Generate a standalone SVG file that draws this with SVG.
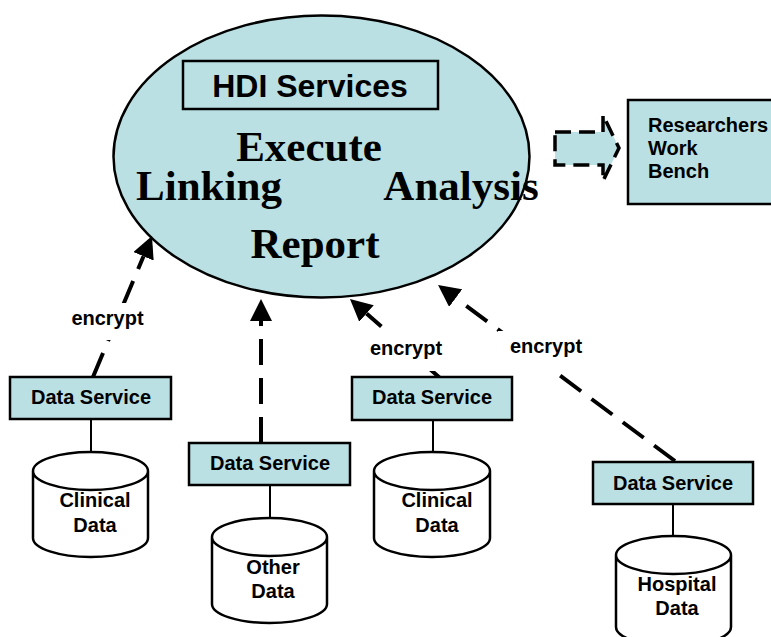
<svg xmlns="http://www.w3.org/2000/svg" width="771" height="637" viewBox="0 0 771 637">
<defs>
<style>
.fill{fill:#BAE0E3;stroke:#000;stroke-width:2.5}
.cyl{fill:#fff;stroke:#000;stroke-width:2.5}
.t{font-family:"Liberation Sans",Arial,sans-serif;font-weight:bold;font-size:20px;fill:#000}
.big{font-family:"Liberation Serif","Times New Roman",serif;font-weight:bold;font-size:43px;fill:#000}
.dash{stroke:#000;stroke-width:4;stroke-dasharray:26 13;fill:none}
.link{stroke:#000;stroke-width:2;fill:none}
.mask{fill:#fff;stroke:none}
</style>
<marker id="ah" markerUnits="userSpaceOnUse" markerWidth="22" markerHeight="22" refX="0" refY="11" orient="auto">
<path d="M0,0 L22,11 L0,22 z" fill="#000"/>
</marker>
</defs>
<rect width="771" height="637" fill="#fff"/>

<g id="hdi">
<ellipse cx="321.5" cy="156.5" rx="208" ry="141" class="fill" stroke-width="2"/>
<rect x="183" y="61" width="255" height="48" fill="none" stroke="#000" stroke-width="2.5"/>
<text x="310" y="97" class="t" style="font-size:32px" text-anchor="middle">HDI Services</text>
<text x="309" y="161" class="big" text-anchor="middle">Execute</text>
<text x="209" y="200" class="big" text-anchor="middle">Linking</text>
<text x="461" y="200" class="big" text-anchor="middle">Analysis</text>
<text x="315" y="258" class="big" text-anchor="middle">Report</text>
</g>

<g id="export-arrow">
<polygon points="555,132 603,132 603,115 619,148 603,181 603,165 555,165" fill="#BAE0E3" stroke="#000" stroke-width="3.5" stroke-dasharray="16 8"/>
</g>

<g id="workbench">
<rect x="628" y="100" width="160" height="104" class="fill"/>
<text class="t" x="648" y="132">Researchers</text>
<text class="t" x="648" y="155">Work</text>
<text class="t" x="648" y="178">Bench</text>
</g>

<g id="connectors">
<line x1="93" y1="377" x2="143.5" y2="256.3" class="dash" marker-end="url(#ah)"/>
<line x1="261" y1="443" x2="261" y2="321" class="dash" marker-end="url(#ah)"/>
<line x1="440" y1="378" x2="366.5" y2="313.5" class="dash" marker-end="url(#ah)"/>
<line x1="675" y1="461" x2="455.7" y2="298.1" class="dash" marker-end="url(#ah)"/>
<rect x="66" y="303" width="82" height="37" class="mask"/>
<text class="t" x="107.5" y="325" text-anchor="middle">encrypt</text>
<rect x="366" y="328" width="80" height="43" class="mask"/>
<text class="t" x="406" y="355" text-anchor="middle">encrypt</text>
<rect x="498" y="331" width="86" height="41" class="mask"/>
<text class="t" x="546" y="353" text-anchor="middle">encrypt</text>
<line x1="91" y1="419" x2="91" y2="452" class="link"/>
<line x1="270" y1="485" x2="270" y2="518" class="link"/>
<line x1="433" y1="420" x2="433" y2="452" class="link"/>
<line x1="673" y1="504" x2="673" y2="535" class="link"/>
</g>

<g id="ds1">
<rect x="10" y="377" width="161" height="42" class="fill"/>
<text class="t" x="91" y="404" text-anchor="middle">Data Service</text>
</g>
<g id="ds2">
<rect x="189" y="443" width="161" height="42" class="fill"/>
<text class="t" x="270" y="470" text-anchor="middle">Data Service</text>
</g>
<g id="ds3">
<rect x="352" y="377" width="160" height="43" class="fill"/>
<text class="t" x="432" y="404" text-anchor="middle">Data Service</text>
</g>
<g id="ds4">
<rect x="593" y="462" width="160" height="42" class="fill"/>
<text class="t" x="673" y="490" text-anchor="middle">Data Service</text>
</g>

<g id="db1">
<path d="M33,471 L33,538 A57.5,19 0 0 0 148,538 L148,471 A57.5,19 0 0 0 33,471 A57.5,19 0 0 0 148,471" class="cyl"/>
<text class="t" x="95" y="507" text-anchor="middle">Clinical</text>
<text class="t" x="95" y="532" text-anchor="middle">Data</text>
</g>
<g id="db2">
<path d="M212,537 L212,604 A57.5,19 0 0 0 327,604 L327,537 A57.5,19 0 0 0 212,537 A57.5,19 0 0 0 327,537" class="cyl"/>
<text class="t" x="273" y="574" text-anchor="middle">Other</text>
<text class="t" x="273" y="598" text-anchor="middle">Data</text>
</g>
<g id="db3">
<path d="M374,471 L374,538 A58,19 0 0 0 490,538 L490,471 A58,19 0 0 0 374,471 A58,19 0 0 0 490,471" class="cyl"/>
<text class="t" x="437" y="507" text-anchor="middle">Clinical</text>
<text class="t" x="437" y="532" text-anchor="middle">Data</text>
</g>
<g id="db4">
<path d="M616,555 L616,627 A57.5,19 0 0 0 731,627 L731,555 A57.5,19 0 0 0 616,555 A57.5,19 0 0 0 731,555" class="cyl"/>
<text class="t" x="677" y="591" text-anchor="middle">Hospital</text>
<text class="t" x="677" y="615" text-anchor="middle">Data</text>
</g>
</svg>
